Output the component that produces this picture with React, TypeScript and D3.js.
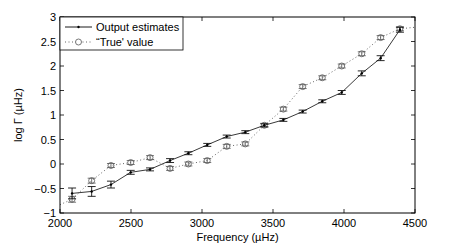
import React from "react";
import { scaleLinear, line } from "d3";

// frequencies (µHz) of the modes
const freqs = [2085, 2223, 2359, 2498, 2634, 2775, 2904, 3037, 3174, 3305, 3439, 3573, 3709, 3847, 3984, 4125, 4258, 4394];
// output estimates of log Γ and their error bars
const outVals = [-0.6, -0.56, -0.42, -0.17, -0.11, 0.07, 0.22, 0.39, 0.56, 0.65, 0.79, 0.9, 1.07, 1.28, 1.46, 1.85, 2.16, 2.74];
const outErr = [0.11, 0.1, 0.07, 0.04, 0.03, 0.04, 0.03, 0.03, 0.03, 0.03, 0.03, 0.03, 0.03, 0.03, 0.04, 0.05, 0.05, 0.05];
// true values and their error bars
const trueVals = [-0.72, -0.34, -0.03, 0.03, 0.13, -0.09, 0.0, 0.07, 0.36, 0.41, 0.79, 1.12, 1.58, 1.76, 2.0, 2.25, 2.58, 2.76];
const trueErr = [0.06, 0.05, 0.04, 0.04, 0.04, 0.04, 0.04, 0.04, 0.04, 0.04, 0.04, 0.04, 0.04, 0.04, 0.04, 0.04, 0.04, 0.04];
// dotted true-value curve continues to the axes
const trueEdgeFreqs = [2000, 4500];
const trueEdgeVals = [-0.83, 2.79];

const xTicks = [2000, 2500, 3000, 3500, 4000, 4500];
const yTicks = [-1, -0.5, 0, 0.5, 1, 1.5, 2, 2.5, 3];

const W = 458;
const H = 243;
const margin = { top: 17, right: 43, bottom: 30, left: 60 };
const font = "Liberation Sans, Arial, sans-serif";

const App: React.FC = () => {
  const iw = W - margin.left - margin.right;
  const ih = H - margin.top - margin.bottom;
  const x = scaleLinear().domain([2000, 4500]).range([0, iw]);
  const y = scaleLinear().domain([-1, 3]).range([ih, 0]);

  const outPts: [number, number][] = freqs.map((f, i) => [f, outVals[i]]);
  const truePts: [number, number][] = [
    [trueEdgeFreqs[0], trueEdgeVals[0]],
    ...freqs.map((f, i) => [f, trueVals[i]] as [number, number]),
    [trueEdgeFreqs[1], trueEdgeVals[1]],
  ];
  const path = line<[number, number]>()
    .x((d) => x(d[0]))
    .y((d) => y(d[1]));

  const fmt = (v: number) => (v < 0 ? "\u2212" + Math.abs(v) : String(v));
  const tk = 4;

  return (
    <svg width={W} height={H} style={{ position: "absolute", left: 0, top: 0, background: "#fff" }}>
      <g transform={`translate(${margin.left},${margin.top})`} fontFamily={font}>
        <defs>
          <clipPath id="plot">
            <rect x={0} y={0} width={iw} height={ih} />
          </clipPath>
        </defs>

        {/* ticks on all sides */}
        {xTicks.map((t) => (
          <g key={"x" + t}>
            <line x1={x(t)} x2={x(t)} y1={ih} y2={ih - tk} stroke="#000" strokeWidth={0.8} />
            <line x1={x(t)} x2={x(t)} y1={0} y2={tk} stroke="#000" strokeWidth={0.8} />
            <text x={x(t)} y={ih + 14} fontSize={11} textAnchor="middle">
              {t}
            </text>
          </g>
        ))}
        {yTicks.map((t) => (
          <g key={"y" + t}>
            <line x1={0} x2={tk} y1={y(t)} y2={y(t)} stroke="#000" strokeWidth={0.8} />
            <line x1={iw} x2={iw - tk} y1={y(t)} y2={y(t)} stroke="#000" strokeWidth={0.8} />
            <text x={-4} y={y(t) + 4} fontSize={11} textAnchor="end">
              {fmt(t)}
            </text>
          </g>
        ))}

        <g clipPath="url(#plot)">
          {/* true values: dotted */}
          <path d={path(truePts) ?? ""} fill="none" stroke="#666" strokeWidth={1} strokeDasharray="1,2.5" />
          {freqs.map((f, i) => (
            <g key={"t" + i} stroke="#555" strokeWidth={0.8} fill="none">
              <line x1={x(f)} x2={x(f)} y1={y(trueVals[i] - trueErr[i])} y2={y(trueVals[i] + trueErr[i])} />
              <line x1={x(f) - 4} x2={x(f) + 4} y1={y(trueVals[i] - trueErr[i])} y2={y(trueVals[i] - trueErr[i])} />
              <line x1={x(f) - 4} x2={x(f) + 4} y1={y(trueVals[i] + trueErr[i])} y2={y(trueVals[i] + trueErr[i])} />
              <circle cx={x(f)} cy={y(trueVals[i])} r={3} />
            </g>
          ))}

          {/* output estimates: solid */}
          <path d={path(outPts) ?? ""} fill="none" stroke="#222" strokeWidth={0.9} />
          {freqs.map((f, i) => (
            <g key={"o" + i} stroke="#111" strokeWidth={0.9}>
              <line x1={x(f)} x2={x(f)} y1={y(outVals[i] - outErr[i])} y2={y(outVals[i] + outErr[i])} />
              <line x1={x(f) - 4} x2={x(f) + 4} y1={y(outVals[i] - outErr[i])} y2={y(outVals[i] - outErr[i])} />
              <line x1={x(f) - 4} x2={x(f) + 4} y1={y(outVals[i] + outErr[i])} y2={y(outVals[i] + outErr[i])} />
              <circle cx={x(f)} cy={y(outVals[i])} r={1.2} fill="#000" stroke="none" />
            </g>
          ))}
        </g>

        <rect x={0} y={0} width={iw} height={ih} fill="none" stroke="#000" strokeWidth={1} />

        {/* legend */}
        <g>
          <rect x={0} y={0} width={123} height={33} fill="#fff" stroke="#000" strokeWidth={0.8} />
          <line x1={5} x2={32} y1={10} y2={10} stroke="#000" strokeWidth={0.9} />
          <circle cx={18.5} cy={10} r={1.2} fill="#000" />
          <text x={36} y={14} fontSize={11}>
            Output estimates
          </text>
          <line x1={5} x2={32} y1={25} y2={25} stroke="#666" strokeWidth={1} strokeDasharray="1,2.5" />
          <circle cx={18.5} cy={25} r={3} fill="#fff" stroke="#555" strokeWidth={0.8} />
          <text x={36} y={29} fontSize={11}>
            {"\u201cTrue' value"}
          </text>
        </g>

        <text x={iw / 2} y={ih + 28} fontSize={11} textAnchor="middle">
          Frequency (µHz)
        </text>
        <text transform={`translate(${-38},${ih / 2}) rotate(-90)`} fontSize={11} textAnchor="middle">
          log Γ (µHz)
        </text>
      </g>
    </svg>
  );
};

export default App;
